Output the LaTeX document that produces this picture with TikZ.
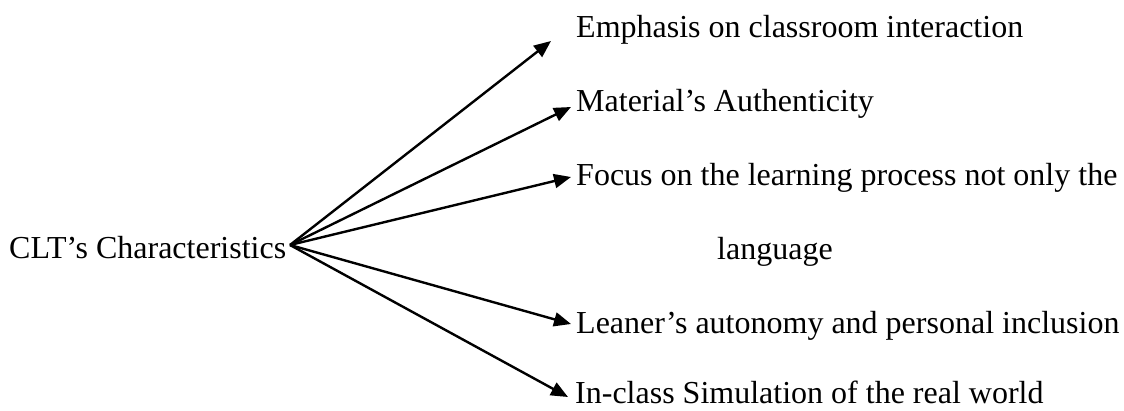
\documentclass[tikz,border=0pt]{standalone}
\usepackage{fontspec}
\setmainfont{Liberation Serif}
\usetikzlibrary{arrows.meta}
\begin{document}
\begin{tikzpicture}[x=1pt,y=-1pt,
  lbl/.style={anchor=base west,inner sep=0pt,font=\fontsize{32}{38}\selectfont},
  arr/.style={line width=2.4pt,-{Triangle[length=17pt,width=14pt]}}]
\useasboundingbox (0,0) rectangle (1124,410);
\node[lbl] (clt) at (9,258) {CLT’s Characteristics};
\node[lbl] (e1) at (576,37.5) {Emphasis on classroom interaction};
\node[lbl] (e2) at (576,111.5) {Material’s Authenticity};
\node[lbl] (e3) at (576,185) {Focus on the learning process not only the};
\node[lbl] (e3b) at (717,259) {language};
\node[lbl] (e4) at (576,333) {Leaner’s autonomy and personal inclusion};
\node[lbl] (e5) at (575,403) {In-class Simulation of the real world};
\coordinate (hub) at (290,245);
\coordinate (t1) at (551,41);
\coordinate (t2) at (571,107);
\coordinate (t3) at (571,177);
\coordinate (t4) at (571,324);
\coordinate (t5) at (568,397);
\foreach \t in {t1,t2,t3,t4,t5} \draw[arr] (hub) -- (\t);
\end{tikzpicture}
\end{document}
